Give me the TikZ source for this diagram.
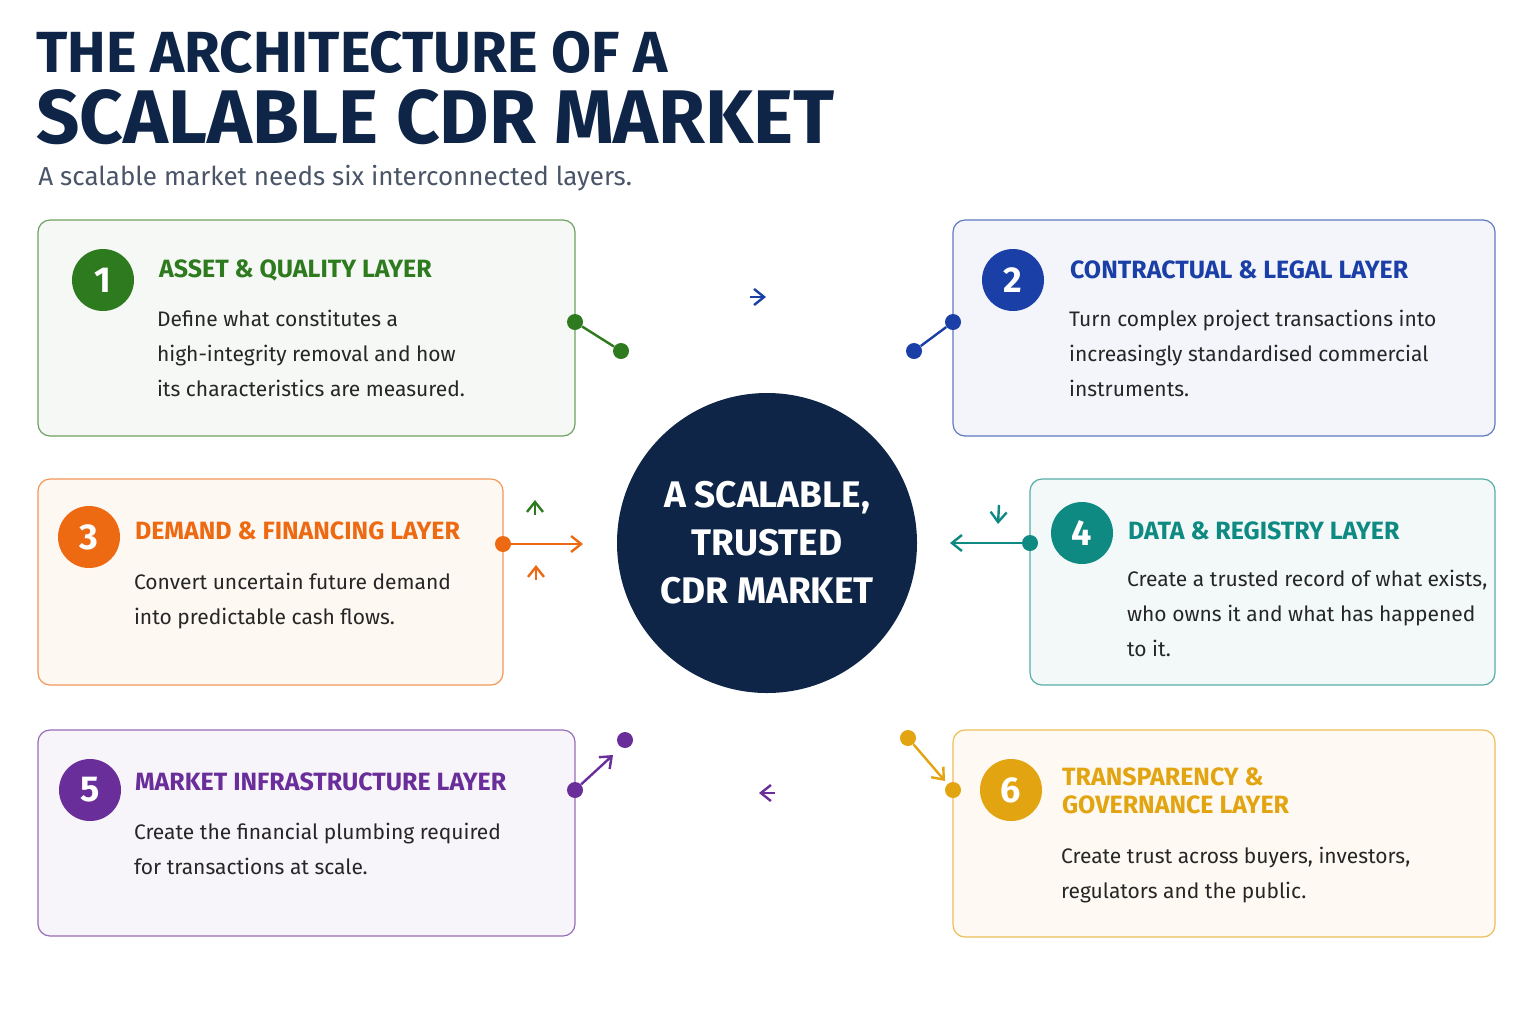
\documentclass[tikz,border=0pt]{standalone}
\usepackage{fontspec}
\setmainfont{Fira Sans}
\usetikzlibrary{arrows.meta}
\definecolor{navy}{HTML}{0E2547}
\definecolor{cg}{HTML}{2E7A1E}
\definecolor{cb}{HTML}{1A3FA6}
\definecolor{co}{HTML}{EE6A12}
\definecolor{ct}{HTML}{0E8A82}
\definecolor{cp}{HTML}{6A2E9A}
\definecolor{cy}{HTML}{E2A410}
\definecolor{sub}{HTML}{4A5568}
\begin{document}
\begin{tikzpicture}[x=0.5pt,y=-0.5pt,
 card/.style={draw=#1!70,fill=#1!5,rounded corners=6pt,line width=0.6pt},
 num/.style={circle,fill=#1,minimum size=31pt,inner sep=0,text=white,font=\bfseries\fontsize{18}{18}\selectfont},
 ttl/.style={anchor=west,text=#1,font=\bfseries\fontsize{12.5}{14}\selectfont,align=left},
 body/.style={anchor=north west,align=left,font=\fontsize{10.5}{17.5}\selectfont,text=black!85},
 dot/.style={circle,fill=#1,minimum size=8pt,inner sep=0},
 arc/.style={draw=#1,line width=1.2pt},
 tip/.style={-{Straight Barb[length=5pt,width=8pt]}}]
\useasboundingbox (0,0) rectangle (1535,1024);
\fill[white] (0,0) rectangle (1535,1024);
\node[anchor=base west,inner sep=0,text=navy,font=\bfseries\fontsize{29}{29}\selectfont] (t1) at (36,72) {THE ARCHITECTURE OF A};
\node[anchor=base west,inner sep=0,text=navy,font=\bfseries\fontsize{38}{38}\selectfont] (t2) at (36,143) {SCALABLE CDR MARKET};
\node[anchor=base west,inner sep=0,text=sub,font=\fontsize{13}{13}\selectfont] (t3) at (38,185) {A scalable market needs six interconnected layers.};
% cards
\draw[card=cg] (38,220) rectangle (575,436);
\draw[card=cb] (953,220) rectangle (1495,436);
\draw[card=co] (38,479) rectangle (503,685);
\draw[card=ct] (1030,479) rectangle (1495,685);
\draw[card=cp] (38,730) rectangle (575,936);
\draw[card=cy] (953,730) rectangle (1495,937);
\node[num=cg] (n1) at (103,280) {1};
\node[num=cb] (n2) at (1013,280) {2};
\node[num=co] (n3) at (89,537) {3};
\node[num=ct] (n4) at (1082,533) {4};
\node[num=cp] (n5) at (90,790) {5};
\node[num=cy] (n6) at (1011,790) {6};
\node[ttl=cg] (h1) at (152,270) {ASSET \& QUALITY LAYER};
\node[ttl=cb] (h2) at (1063,270) {CONTRACTUAL \& LEGAL LAYER};
\node[ttl=co] (h3) at (128,531) {DEMAND \& FINANCING LAYER};
\node[ttl=ct] (h4) at (1121,531) {DATA \& REGISTRY LAYER};
\node[ttl=cp] (h5) at (128,782) {MARKET INFRASTRUCTURE LAYER};
\node[ttl=cy] (h6) at (1055,791) {TRANSPARENCY \&\\GOVERNANCE LAYER};
\node[body] (b1) at (150,303) {Define what constitutes a\\high-integrity removal and how\\its characteristics are measured.};
\node[body] (b2) at (1062,303) {Turn complex project transactions into\\increasingly standardised commercial\\instruments.};
\node[body] (b3) at (127,566) {Convert uncertain future demand\\into predictable cash flows.};
\node[body] (b4) at (1120,563) {Create a trusted record of what exists,\\who owns it and what has happened\\to it.};
\node[body] (b5) at (127,816) {Create the financial plumbing required\\for transactions at scale.};
\node[body] (b6) at (1054,840) {Create trust across buyers, investors,\\regulators and the public.};
% ring
\def\rx{233}\def\ry{248}
\coordinate (c) at (767,545);
\draw[arc=cb] (c) ++(127:\rx pt*2 and \ry pt*2) coordinate (p1) arc[start angle=127,end angle=90,x radius=\rx,y radius=\ry] coordinate (top) arc[start angle=90,end angle=45,x radius=\rx,y radius=\ry] coordinate (p2) arc[start angle=45,end angle=10,x radius=\rx,y radius=\ry];
\draw[arc=ct] (c) ++(10:{\rx*2pt} and {\ry*2pt}) arc[start angle=10,end angle=-39,x radius=\rx,y radius=\ry] coordinate (p6);
\draw[arc=cy] (p6) arc[start angle=-39,end angle=-60,x radius=\rx,y radius=\ry];
\draw[arc=cp] (c) ++(-60:{\rx*2pt} and {\ry*2pt}) arc[start angle=-60,end angle=-130,x radius=\rx,y radius=\ry] coordinate (p5);
\draw[arc=co] (p5) arc[start angle=-130,end angle=-180,x radius=\rx,y radius=\ry] arc[start angle=180,end angle=165,x radius=\rx,y radius=\ry];
\draw[arc=cg] (c) ++(165:{\rx*2pt} and {\ry*2pt}) arc[start angle=165,end angle=127,x radius=\rx,y radius=\ry];
% arrow heads on ring
\draw[cb,line width=1.2pt,tip] (750,297) -- (766,297);
\draw[ct,line width=1.2pt,tip] (999,505) -- (998,524);
\draw[cp,line width=1.2pt,tip] (775,793) -- (759,793);
\draw[cg,line width=1.2pt,tip] (535,515) -- (535,500);
\draw[co,line width=1.2pt,tip] (536,580) -- (536,565);
% centre
\node[circle,fill=navy,minimum size=150pt,inner sep=0,text=white,align=center,font=\bfseries\fontsize{18.5}{24}\selectfont] (core) at (767,543) {A SCALABLE,\\TRUSTED\\CDR MARKET};
% connectors
\node[dot=cg] (d1a) at (575,322) {}; \node[dot=cg] (d1b) at (621,351) {};
\draw[cg,line width=1.2pt] (d1a) -- (d1b);
\node[dot=cb] (d2a) at (953,322) {}; \node[dot=cb] (d2b) at (914,351) {};
\draw[cb,line width=1.2pt] (d2a) -- (d2b);
\node[dot=co] (d3) at (503,544) {}; \coordinate (e3) at (583,544);
\draw[co,line width=1.2pt,tip] (d3) -- (e3);
\node[dot=ct] (d4) at (1030,543) {}; \coordinate (e4) at (950,543);
\draw[ct,line width=1.2pt,tip] (d4) -- (e4);
\node[dot=cp] (d5a) at (575,790) {}; \node[dot=cp] (d5b) at (625,740) {}; \coordinate (e5) at (613,755);
\draw[cp,line width=1.2pt,tip] (d5a) -- (e5);
\node[dot=cy] (d6a) at (908,738) {}; \node[dot=cy] (d6b) at (953,790) {}; \coordinate (e6) at (945,781);
\draw[cy,line width=1.2pt,tip] (d6a) -- (e6);
\end{tikzpicture}
\end{document}
